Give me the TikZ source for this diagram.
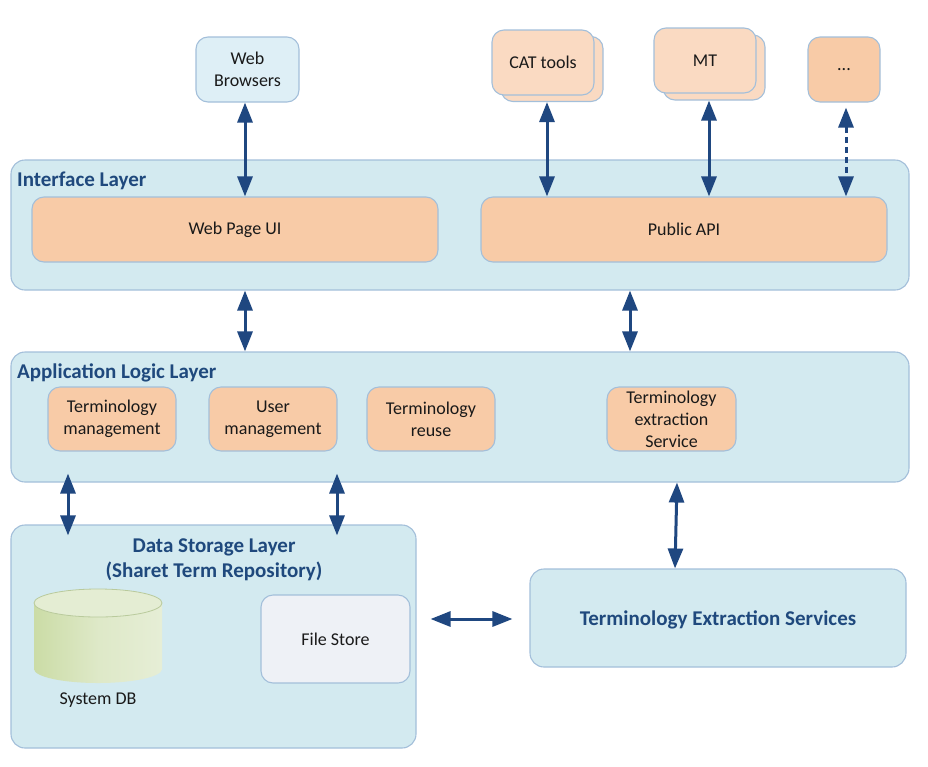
\documentclass[tikz,border=0pt]{standalone}
\usepackage{fontspec}
\setmainfont{Carlito}
\usetikzlibrary{arrows.meta,calc}
\definecolor{layerfill}{HTML}{D3EAF0}
\definecolor{layerdraw}{HTML}{A3BFDA}
\definecolor{orfill}{HTML}{F8CBA7}
\definecolor{orlight}{HTML}{FADAC2}
\definecolor{wbfill}{HTML}{DEEFF6}
\definecolor{fsfill}{HTML}{EEF1F6}
\definecolor{navy}{HTML}{1F497D}
\definecolor{arrowc}{HTML}{1F4780}
\definecolor{dbdark}{HTML}{CBDCA6}
\definecolor{dblight}{HTML}{E6EED6}
\definecolor{dbtop}{HTML}{E4EDD3}
\definecolor{dbline}{HTML}{B9CA9C}
\begin{document}
\begin{tikzpicture}[x=1pt,y=-1pt,
  base/.style={draw=layerdraw, line width=1.1pt, rounded corners=12pt, align=center,
    inner sep=1pt, font=\fontsize{18}{22}\selectfont, text=black!90},
  layer/.style={base, fill=layerfill, rounded corners=14pt},
  orbox/.style={base, fill=orfill},
  ltbox/.style={base, fill=orlight},
  arr/.style={draw=arrowc, line width=3pt,
    {Triangle[length=20pt,width=15pt]}-{Triangle[length=20pt,width=15pt]}},
  title/.style={font=\fontsize{21}{25}\selectfont\bfseries, text=navy, inner sep=0pt, align=center},
  lbl/.style={font=\fontsize{18}{22}\selectfont, text=black!90, inner sep=0pt},
  dbshade/.style={left color=dbdark, right color=dblight, middle color=dblight!70!dbdark}
]
\useasboundingbox (0,0) rectangle (928,766);

% layers
\node[layer, minimum width=898pt, minimum height=130pt] (iface) at (460,225) {};
\node[layer, minimum width=898pt, minimum height=130pt] (app) at (460,417) {};
\node[layer, minimum width=405pt, minimum height=223pt] (data) at (213.5,636.5) {};
\node[layer, minimum width=376pt, minimum height=98pt] (ext) at (718,618) {};
\node[title] (extt) at (718,619.5) {Terminology Extraction Services};

\node[title, anchor=west] (ifacet) at (17,180.5) {Interface Layer};
\node[title, anchor=west] (appt) at (17,372.5) {Application Logic Layer};
\node[title] (datat) at (214,559.5) {Data Storage Layer\\(Sharet Term Repository)};

% top clients
\node[base, fill=wbfill, minimum width=103pt, minimum height=65pt] (wb) at (247.5,69.5) {Web\\Browsers};
\node[ltbox, minimum width=102pt, minimum height=65pt] (catb) at (552,69) {};
\node[ltbox, minimum width=102pt, minimum height=65pt] (cat) at (543,62.5) {CAT tools};
\node[ltbox, minimum width=102pt, minimum height=65pt] (mtb) at (714,67.5) {};
\node[ltbox, minimum width=102pt, minimum height=65pt] (mt) at (705,60.5) {MT};
\node[orbox, minimum width=72pt, minimum height=65pt] (dots) at (844,69.5) {...};

% interface boxes
\node[orbox, minimum width=406pt, minimum height=65pt] (wpui) at (235,229.5) {Web Page UI};
\node[orbox, minimum width=406pt, minimum height=65pt] (papi) at (684,229.5) {Public API};

% application boxes
\node[orbox, minimum width=128pt, minimum height=64pt] (tm) at (112,419) {Terminology\\management};
\node[orbox, minimum width=128pt, minimum height=64pt] (um) at (273,419) {User\\management};
\node[orbox, minimum width=128pt, minimum height=64pt] (tr) at (431,419) {Terminology\\reuse};
\node[orbox, minimum width=129pt, minimum height=64pt] (tes) at (671.5,419) {Terminology\\extraction\\Service};

% data storage contents
\path[dbshade] (98,669) ellipse [x radius=64, y radius=14];
\path[dbshade] (34,603) rectangle (162,669);
\draw[dbline, line width=0.8pt, fill=dbtop] (98,603) ellipse [x radius=64, y radius=14];
\node[lbl] (dbl) at (98,700) {System DB};
\node[base, fill=fsfill, minimum width=149pt, minimum height=88pt] (fs) at (335.5,639) {File Store};

% arrows
\draw[arr] (245,0 |- wb.south) -- (245,0 |- wpui.north);
\draw[arr] (547,0 |- catb.south) -- (547,0 |- papi.north);
\draw[arr] (709,0 |- mtb.south) -- (709,0 |- papi.north);
\draw[arr, dash pattern=on 6pt off 4pt] ($(846,0 |- dots.south)+(0,5)$) -- (846,0 |- papi.north);
\draw[arr] (245,0 |- iface.south) -- (245,0 |- app.north);
\draw[arr] (630,0 |- iface.south) -- (630,0 |- app.north);
\draw[arr] ($(68,0 |- app.south)+(0,-9)$) -- ($(68,0 |- data.north)+(0,11)$);
\draw[arr] ($(337,0 |- app.south)+(0,-9)$) -- ($(337,0 |- data.north)+(0,11)$);
\draw[arr] (677,0 |- app.south) -- (675,0 |- ext.north);
\draw[arr] ($(data.east |- ext.west)+(14,1)$) -- ($(ext.west)+(-17,1)$);
\end{tikzpicture}
\end{document}
